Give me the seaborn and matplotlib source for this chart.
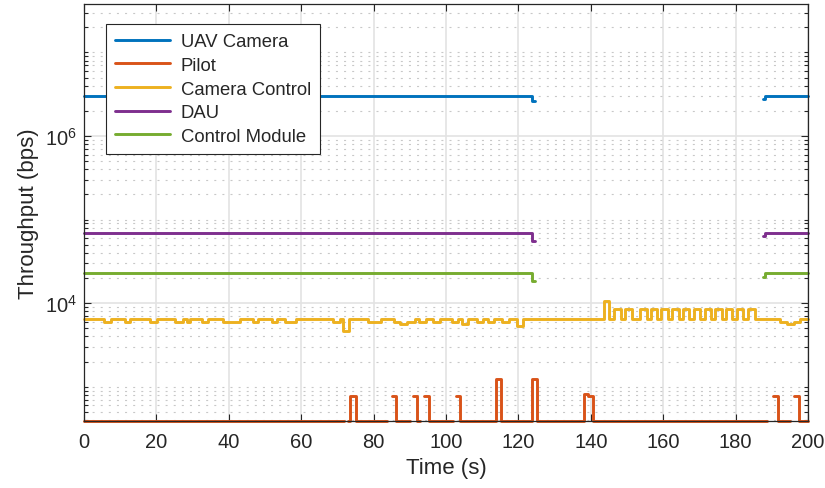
import numpy as np
import pandas as pd
import matplotlib
matplotlib.use("Agg")
import matplotlib.pyplot as plt
from matplotlib import ticker
import seaborn as sns

# ---- data: stair-step traces (value holds from each time until the next one; NaN = no traffic)
series_names = ["UAV Camera", "Pilot", "Camera Control", "DAU", "Control Module"]
series_colors = ["#0072BD", "#D95319", "#EDB120", "#7E2F8E", "#77AC30"]

uav_t = [0, 123.7, 124.6, 187.5, 188.2, 200]
uav_v = [3.0e6, 2.6e6, np.nan, 2.8e6, 3.0e6, 3.0e6]

dau_t = [0, 123.7, 124.6, 187.5, 188.2, 200]
dau_v = [6.9e4, 5.6e4, np.nan, 6.4e4, 6.9e4, 6.9e4]

ctrl_t = [0, 123.7, 124.6, 187.5, 188.2, 200]
ctrl_v = [2.3e4, 1.87e4, np.nan, 2.05e4, 2.3e4, 2.3e4]

pilot_t = [0, 71.8, 73.0, 73.6, 75.1, 83.6, 85.0, 86.1, 90.1, 91.0, 92.1, 92.9,
           94.0, 95.3, 102.0, 102.9, 104.0, 113.7, 115.1, 123.7, 125.1, 138.2,
           139.3, 140.6, 188.8, 190.2, 191.6, 194.9, 196.1, 197.4, 200]
pilot_v = [390, np.nan, 390, 780, 390, np.nan, 780, 390, np.nan, 780, 390, np.nan,
           780, 390, np.nan, 780, 390, 1230, 390, 1230, 390, 820,
           780, 390, np.nan, 780, 390, np.nan, 780, 390, 390]

cam_t = [0, 5.5, 7.4, 11.3, 12.7, 18.2, 20.3, 25.1, 27.4, 28.4, 29.3, 32.5, 34.3,
         38.5, 43.1, 46.6, 48.2, 51.8, 53.2, 55.5, 58.7, 68.9, 70.7, 71.6, 73.3,
         78.5, 82.0, 85.5, 87.4, 89.3, 91.4, 92.5, 94.4, 96.5, 98.4, 101.6, 103.4,
         104.5, 106.2, 108.5, 110.3, 111.7, 113.3, 115.5, 117.3, 119.5, 121.4,
         143.6, 145.0,
         146.5, 148.3, 149.5, 151.3, 153.6, 155.4, 156.6, 158.4, 159.5, 161.3,
         162.5, 164.3, 165.4, 167.2, 168.4, 170.2, 171.5, 173.3, 174.4, 176.2,
         177.3, 179.1, 180.3, 182.1, 183.5, 185.3,
         192.3, 194.1, 196.0, 197.8, 200]
cam_v = [6.5e3, 6.0e3, 6.5e3, 6.0e3, 6.5e3, 6.0e3, 6.5e3, 6.0e3, 6.5e3, 6.0e3, 6.5e3, 6.0e3, 6.5e3,
         6.0e3, 6.5e3, 6.0e3, 6.5e3, 6.0e3, 6.5e3, 6.0e3, 6.5e3, 6.0e3, 6.5e3, 4.6e3, 6.5e3,
         6.0e3, 6.5e3, 6.0e3, 5.6e3, 6.0e3, 6.5e3, 6.0e3, 6.5e3, 6.0e3, 6.5e3, 6.0e3, 6.5e3,
         5.6e3, 6.5e3, 6.0e3, 6.5e3, 6.0e3, 6.5e3, 6.0e3, 6.5e3, 5.3e3, 6.5e3,
         1.05e4, 6.5e3,
         8.5e3, 6.5e3, 8.5e3, 6.5e3, 8.5e3, 6.5e3, 8.5e3, 6.5e3, 8.5e3, 6.5e3,
         8.5e3, 6.5e3, 8.5e3, 6.5e3, 8.5e3, 6.5e3, 8.5e3, 6.5e3, 8.5e3, 6.5e3,
         8.5e3, 6.5e3, 8.5e3, 6.5e3, 8.5e3, 6.5e3,
         6.0e3, 5.6e3, 6.0e3, 6.5e3, 6.5e3]

x_ticks = [0, 20, 40, 60, 80, 100, 120, 140, 160, 180, 200]
y_major = [1e2, 1e4, 1e6, 1e8]


def stair_frame(name, times, values):
    """Split a trace into runs at NaN samples; each run ends where the gap begins."""
    rows, run, prev = [], 0, None
    for t, v in zip(times, values):
        if np.isnan(v):
            if prev is not None:
                rows.append((name, f"{name}-{run}", t, prev))
            run += 1
            prev = None
        else:
            rows.append((name, f"{name}-{run}", t, v))
            prev = v
    return pd.DataFrame(rows, columns=["series", "run", "time", "throughput"])


traces = {
    "UAV Camera": (uav_t, uav_v),
    "Pilot": (pilot_t, pilot_v),
    "Camera Control": (cam_t, cam_v),
    "DAU": (dau_t, dau_v),
    "Control Module": (ctrl_t, ctrl_v),
}
df = pd.concat([stair_frame(n, *traces[n]) for n in series_names], ignore_index=True)

# ---- figure
sns.set_style("ticks")
plt.rcParams["font.family"] = ["Liberation Sans", "DejaVu Sans"]
plt.rcParams["mathtext.fontset"] = "custom"
plt.rcParams["mathtext.rm"] = "Liberation Sans"

fig, ax = plt.subplots(figsize=(8.25, 4.89), dpi=100)
fig.subplots_adjust(left=84 / 825, right=808 / 825, top=1 - 5 / 489, bottom=1 - 422 / 489)

sns.lineplot(data=df, x="time", y="throughput", hue="series", hue_order=series_names,
             palette=series_colors, units="run", estimator=None, drawstyle="steps-post",
             linewidth=2.1, clip_on=False, ax=ax)

ax.set_yscale("log")
ax.set_xlim(0, 200)
ax.set_ylim(390, 3.8e7)

ax.xaxis.set_major_locator(ticker.FixedLocator(x_ticks))
ax.yaxis.set_major_locator(ticker.FixedLocator(y_major))
ax.yaxis.set_major_formatter(ticker.LogFormatterMathtext())
ax.yaxis.set_minor_locator(ticker.LogLocator(base=10, subs=np.arange(1, 10), numticks=30))
ax.yaxis.set_minor_formatter(ticker.NullFormatter())

ax.grid(which="major", axis="both", color="#e3e3e3", linewidth=1.2, linestyle="-")
ax.grid(which="minor", axis="y", color="#c8c8c8", linewidth=0.8, linestyle=(0, (1.8, 5.5)))
ax.set_axisbelow(True)

for side in ["left", "right", "top", "bottom"]:
    ax.spines[side].set_visible(True)
    ax.spines[side].set_color("#262626")
    ax.spines[side].set_linewidth(0.9)

ax.tick_params(which="both", direction="in", top=True, right=True, color="#262626",
               labelsize=14.5, labelcolor="#262626")
ax.tick_params(which="major", length=5, width=0.8)
ax.tick_params(which="minor", length=3, width=0.8)
ax.tick_params(axis="x", pad=8)
ax.tick_params(axis="y", pad=5)

ax.set_xlabel("Time (s)", fontsize=16, color="#262626", labelpad=4)
ax.set_ylabel("Throughput (bps)", fontsize=16, color="#262626", labelpad=4)

sns.move_legend(ax, "upper left", bbox_to_anchor=(0.030, 0.952), borderaxespad=0,
                title=None, frameon=True, fancybox=False, fontsize=13.3,
                handlelength=3.0, handletextpad=0.55, labelspacing=0.36, borderpad=0.5)
leg = ax.get_legend()
leg.get_frame().set_edgecolor("#262626")
leg.get_frame().set_linewidth(0.8)
leg.get_frame().set_alpha(1.0)
for line in leg.get_lines():
    line.set_linewidth(2.1)

fig.savefig("out.png", dpi=100)
